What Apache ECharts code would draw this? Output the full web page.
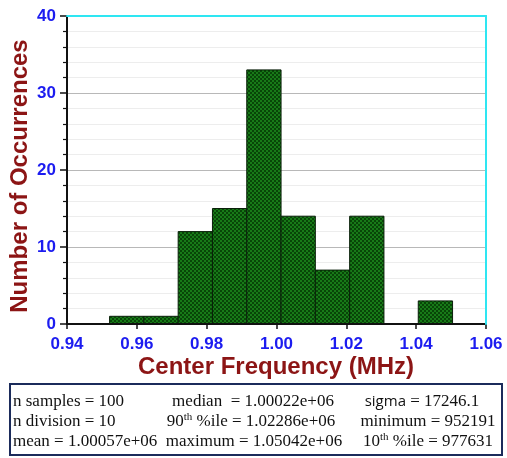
<!DOCTYPE html>
<html>
<head>
<meta charset="utf-8">
<script src="https://cdn.jsdelivr.net/npm/echarts@6/dist/echarts.min.js"></script>
<style>html,body{margin:0;padding:0;background:#fff;}#c{width:507px;height:458px;}</style>
</head>
<body>
<div id="c"></div>
<script>
// Histogram bin edges (MHz) and counts
const binEdges = [0.952191, 0.962014, 0.971837, 0.981660, 0.991483, 1.001306, 1.011128, 1.020951, 1.030774, 1.040597, 1.050420];
const counts = [1, 1, 12, 15, 33, 14, 7, 14, 0, 3];
const xTicks = ['0.94','0.96','0.98','1.00','1.02','1.04','1.06'];
const yTicks = [0, 10, 20, 30, 40];
const statsCol1 = ['n samples = 100', 'n division = 10', 'mean = 1.00057e+06'];

const pc = document.createElement('canvas');
pc.width = 4; pc.height = 4;
const g = pc.getContext('2d');
g.fillStyle = '#084608'; g.fillRect(0, 0, 4, 4);
g.fillStyle = '#187a18'; g.fillRect(0, 0, 2, 2); g.fillRect(2, 2, 2, 2);

const data = counts.map((c, i) => [binEdges[i], binEdges[i + 1], c]).filter(d => d[2] > 0);

const chart = echarts.init(document.getElementById('c'));
const labelFont = { fontFamily: 'Liberation Sans', fontWeight: 'bold', fontSize: 17, color: '#1c1cf0' };
const serif = 'Liberation Serif';
const cyan = '#2ee6f2';
const supRich = {
  a: { fontFamily: serif, fontSize: 17, fill: '#111', lineHeight: 19 },
  s: { fontFamily: serif, fontSize: 11, fill: '#111', verticalAlign: 'top', lineHeight: 19, padding: [0, 0, 6, 0] }
};
chart.setOption({
  animation: false,
  grid: { left: 67, right: 21, top: 16, bottom: 134, show: true, borderWidth: 0, backgroundColor: '#fff' },
  xAxis: [{
    type: 'value', position: 'bottom', min: 0.94, max: 1.06, interval: 0.02, z: 4,
    axisLine: { onZero: false, lineStyle: { color: '#111', width: 2 } },
    axisTick: { length: 5, lineStyle: { color: '#111', width: 1.5 } },
    axisLabel: Object.assign({ margin: 12, formatter: v => xTicks.find(t => Math.abs(parseFloat(t) - v) < 1e-6) || '' }, labelFont),
    splitLine: { show: false }
  }, {
    type: 'value', position: 'top', min: 0.94, max: 1.06, interval: 0.02, z: 5,
    axisLine: { show: true, onZero: false, lineStyle: { color: cyan, width: 2 } },
    axisTick: { show: false }, axisLabel: { show: false }, splitLine: { show: false }
  }],
  yAxis: [{
    type: 'value', position: 'left', min: 0, max: 40, interval: 10,
    axisLine: { show: true, onZero: false, lineStyle: { color: '#111', width: 2 } },
    axisTick: { show: true, length: 7, lineStyle: { color: '#111', width: 1.5 } },
    minorTick: { show: true, splitNumber: 5, length: 4, lineStyle: { color: '#111', width: 1.2 } },
    axisLabel: Object.assign({ margin: 11, formatter: v => yTicks.includes(v) ? String(v) : '' }, labelFont),
    splitLine: { lineStyle: { color: '#b8b8b8', width: 1 } },
    minorSplitLine: { show: true, lineStyle: { color: '#ededed', width: 1 } }
  }, {
    type: 'value', position: 'right', min: 0, max: 40, interval: 10, z: 5,
    axisLine: { show: true, onZero: false, lineStyle: { color: cyan, width: 2 } },
    axisTick: { show: false }, axisLabel: { show: false }, splitLine: { show: false }
  }],
  series: [{
    type: 'custom',
    z: 2,
    data: data,
    renderItem: function (params, api) {
      const p0 = api.coord([api.value(0), api.value(2)]);
      const p1 = api.coord([api.value(1), 0]);
      return {
        type: 'rect',
        shape: { x: p0[0], y: p0[1], width: p1[0] - p0[0], height: p1[1] - p0[1] },
        style: { fill: { image: pc, repeat: 'repeat' }, stroke: '#0a200a', lineWidth: 1 }
      };
    }
  }],
  graphic: [
    { type: 'text', x: 20, y: 176, rotation: Math.PI / 2,
      style: { text: 'Number of Occurrences', font: 'bold 24px "Liberation Sans"', fill: '#8c1515', align: 'center', verticalAlign: 'middle' } },
    { type: 'text', x: 276, y: 367,
      style: { text: 'Center Frequency (MHz)', font: 'bold 24px "Liberation Sans"', fill: '#8c1515', align: 'center', verticalAlign: 'middle' } },
    { type: 'rect', shape: { x: 10, y: 384, width: 492, height: 71 },
      style: { fill: '#fff', stroke: '#1b2b5b', lineWidth: 2 } },
    { type: 'text', x: 13, y: 401.5, style: { text: statsCol1[0], font: '17px "Liberation Serif"', fill: '#111', align: 'left', verticalAlign: 'middle' } },
    { type: 'text', x: 13, y: 421.5, style: { text: statsCol1[1], font: '17px "Liberation Serif"', fill: '#111', align: 'left', verticalAlign: 'middle' } },
    { type: 'text', x: 13, y: 441.5, style: { text: statsCol1[2], font: '17px "Liberation Serif"', fill: '#111', align: 'left', verticalAlign: 'middle' } },
    { type: 'text', x: 253, y: 401.5, style: { text: 'median  = 1.00022e+06', font: '17px "Liberation Serif"', fill: '#111', align: 'center', verticalAlign: 'middle' } },
    { type: 'text', x: 251, y: 421.5, style: { text: '{a|90}{s|th}{a| %ile = 1.02286e+06}', align: 'center', verticalAlign: 'middle', rich: supRich } },
    { type: 'text', x: 254, y: 441.5, style: { text: 'maximum = 1.05042e+06', font: '17px "Liberation Serif"', fill: '#111', align: 'center', verticalAlign: 'middle' } },
    { type: 'text', x: 422, y: 401.5, style: {
        text: '{b|sigma}{a| = 17246.1}', align: 'center', verticalAlign: 'middle',
        rich: { a: { fontFamily: serif, fontSize: 17, fill: '#111' }, b: { fontFamily: 'Open Sans', fontSize: 15, fill: '#111' } } } },
    { type: 'text', x: 428, y: 421.5, style: { text: 'minimum = 952191', font: '17px "Liberation Serif"', fill: '#111', align: 'center', verticalAlign: 'middle' } },
    { type: 'text', x: 428, y: 441.5, style: { text: '{a|10}{s|th}{a| %ile = 977631}', align: 'center', verticalAlign: 'middle', rich: supRich } }
  ]
});
</script>
</body>
</html>
